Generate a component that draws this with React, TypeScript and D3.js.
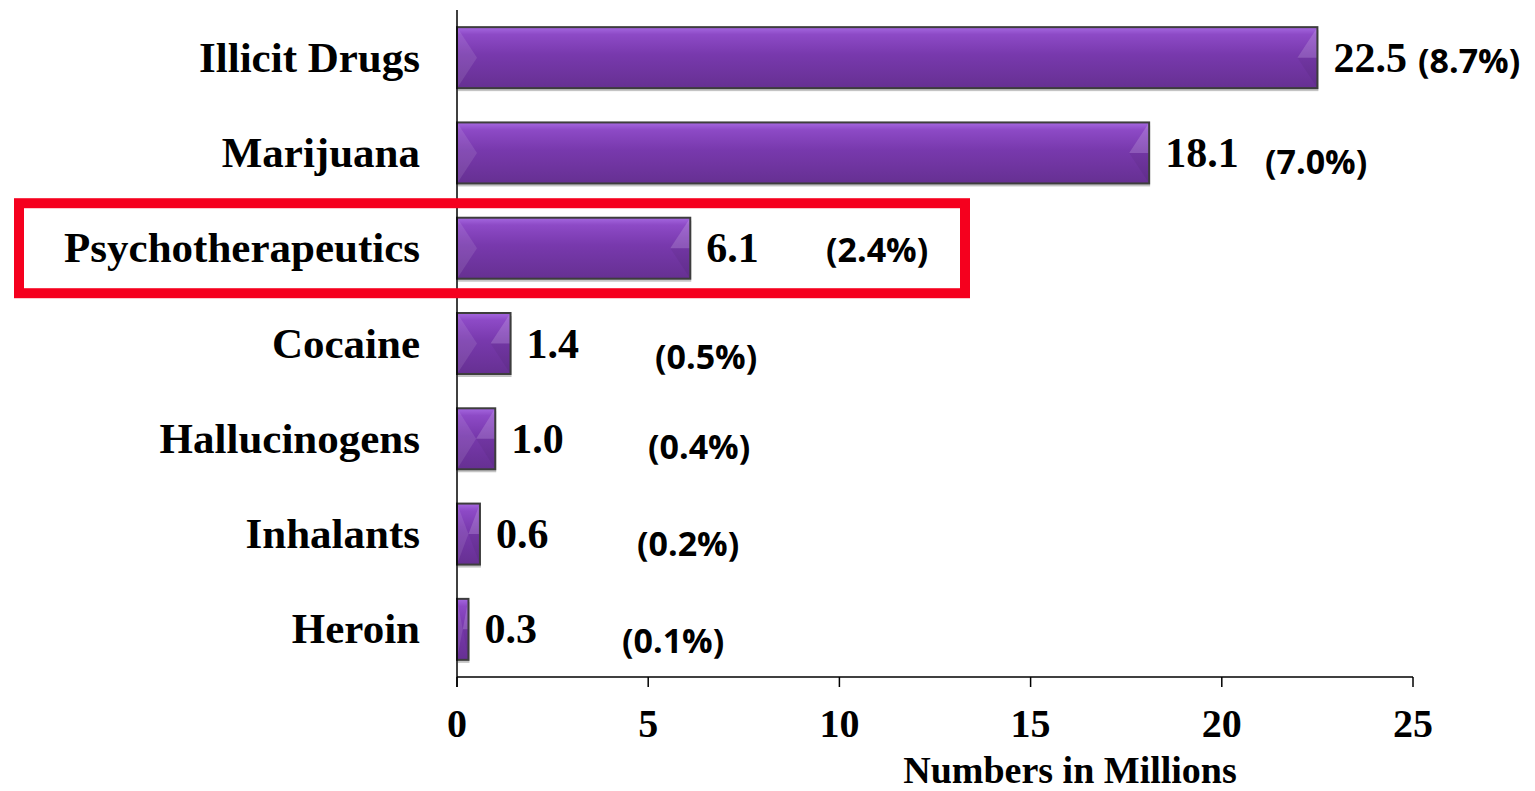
import React from "react";
import * as d3 from "d3";

// Past-month users aged 12+, millions, with share of population
const categories = [
  "Illicit Drugs",
  "Marijuana",
  "Psychotherapeutics",
  "Cocaine",
  "Hallucinogens",
  "Inhalants",
  "Heroin",
];
const usersMillions = [22.5, 18.1, 6.1, 1.4, 1.0, 0.6, 0.3];
const populationShare = ["(8.7%)", "(7.0%)", "(2.4%)", "(0.5%)", "(0.4%)", "(0.2%)", "(0.1%)"];
const xTicks = [0, 5, 10, 15, 20, 25];
const highlighted = "Psychotherapeutics";

// Layout constants
const W = 1535;
const H = 791;
const X0 = 457;
const X1 = 1413;
const Y0 = 10;
const Y1 = 677;
// share labels sit in a loose column to the right of each value
const shareLeft = [961, 808, 369, 198, 191, 180, 165];
const shareDy = [3, 9, 2, 13, 8, 10, 11];

const serif = "'Liberation Serif', 'Times New Roman', serif";
const sans = "'Open Sans', 'Liberation Sans', sans-serif";

export default function App() {
  const x = d3.scaleLinear().domain([0, 25]).range([X0, X1]);
  const y = d3
    .scaleBand<string>()
    .domain(categories)
    .range([Y0, Y1])
    .paddingInner(0.36)
    .paddingOuter(0.18);
  const bh = y.bandwidth();

  return (
    <svg
      width={W}
      height={H}
      style={{ position: "absolute", left: 0, top: 0, display: "block", background: "#fff" }}
    >
      <defs>
        <linearGradient id="barFill" x1="0" y1="0" x2="0" y2="1">
          <stop offset="0" stopColor="#a568e0" />
          <stop offset="0.12" stopColor="#8d4ac6" />
          <stop offset="0.45" stopColor="#7839ad" />
          <stop offset="1" stopColor="#663092" />
        </linearGradient>
      </defs>

      {/* bars */}
      {categories.map((c, i) => {
        const v = usersMillions[i];
        const bx = x(0);
        const bw = x(v) - x(0);
        const by = y(c)!;
        const b = Math.min(20, bw / 2);
        const xr = bx + bw;
        const my = by + bh / 2;
        return (
          <g key={c}>
            <rect x={bx + 1} y={by + 3} width={bw} height={bh} fill="#c4c4c4" />
            <rect x={bx} y={by} width={bw} height={bh} fill="url(#barFill)" />
            {/* left bevel */}
            <polygon
              points={`${bx},${by} ${bx + b},${my} ${bx},${by + bh}`}
              fill="#ffffff"
              opacity={0.1}
            />
            {/* right bevel: lit upper half, shaded lower half */}
            <polygon
              points={`${xr},${by} ${xr - b},${my} ${xr},${my}`}
              fill="#ffffff"
              opacity={0.16}
            />
            <polygon
              points={`${xr},${my} ${xr - b},${my} ${xr},${by + bh}`}
              fill="#000"
              opacity={0.05}
            />
            <rect
              x={bx}
              y={by}
              width={bw}
              height={bh}
              fill="none"
              stroke="#3d3d3d"
              strokeWidth={2}
            />
          </g>
        );
      })}

      {/* axes */}
      <line x1={X0} x2={X0} y1={Y0} y2={Y1 + 10} stroke="#000" strokeWidth={1.5} />
      <line x1={X0} x2={X1} y1={Y1} y2={Y1} stroke="#000" strokeWidth={1.5} />
      {xTicks.map((t) => (
        <g key={t}>
          <line x1={x(t)} x2={x(t)} y1={Y1} y2={Y1 + 10} stroke="#000" strokeWidth={1.5} />
          <text
            x={x(t)}
            y={737}
            textAnchor="middle"
            fontFamily={serif}
            fontWeight="bold"
            fontSize={40}
            fill="#000"
          >
            {t}
          </text>
        </g>
      ))}
      <text
        x={1070}
        y={783}
        textAnchor="middle"
        fontFamily={serif}
        fontWeight="bold"
        fontSize={38}
        fill="#000"
      >
        Numbers in Millions
      </text>

      {/* category labels */}
      {categories.map((c) => (
        <text
          key={c}
          x={420}
          y={y(c)! + bh / 2 + 14}
          textAnchor="end"
          fontFamily={serif}
          fontWeight="bold"
          fontSize={43}
          fill="#000"
        >
          {c}
        </text>
      ))}

      {/* value labels */}
      {categories.map((c, i) => (
        <text
          key={c}
          x={x(usersMillions[i]) + 16}
          y={y(c)! + bh / 2 + 14}
          fontFamily={serif}
          fontWeight="bold"
          fontSize={42}
          fill="#000"
        >
          {usersMillions[i].toFixed(1)}
        </text>
      ))}

      {/* population share labels */}
      {categories.map((c, i) => (
        <text
          key={c}
          x={X0 + shareLeft[i]}
          y={y(c)! + bh / 2 + shareDy[i]}
          dy="0.36em"
          fontFamily={sans}
          fontWeight="bold"
          fontSize={34}
          fill="#000"
        >
          {populationShare[i]}
        </text>
      ))}

      {/* highlight frame */}
      {(() => {
        const cy = y(highlighted)! + bh / 2;
        return (
          <rect
            x={19}
            y={cy - 45}
            width={946}
            height={90}
            fill="none"
            stroke="#f5001e"
            strokeWidth={10}
          />
        );
      })()}
    </svg>
  );
}
